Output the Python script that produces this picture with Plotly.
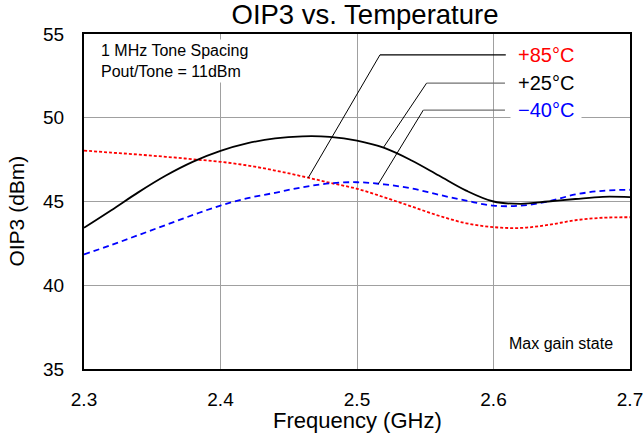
import numpy as np
import plotly.graph_objects as go

freq = [2.30, 2.32, 2.34, 2.36, 2.38, 2.40, 2.42, 2.44, 2.46, 2.48, 2.50,
        2.52, 2.54, 2.56, 2.58, 2.60, 2.62, 2.64, 2.66, 2.68, 2.70]
oip3_p25 = [43.43, 44.48, 45.56, 46.55, 47.38, 48.02, 48.48, 48.77, 48.89, 48.86, 48.64,
            48.20, 47.45, 46.55, 45.65, 45.00, 44.86, 45.00, 45.15, 45.28, 45.26]
oip3_p85 = [48.04, 47.92, 47.80, 47.67, 47.52, 47.37, 47.15, 46.85, 46.50, 46.12, 45.76,
            45.25, 44.70, 44.15, 43.70, 43.47, 43.42, 43.60, 43.88, 44.03, 44.06]
oip3_m40 = [41.84, 42.40, 43.00, 43.60, 44.20, 44.76, 45.20, 45.52, 45.85, 46.08, 46.15,
            46.02, 45.78, 45.40, 45.05, 44.75, 44.75, 45.00, 45.42, 45.64, 45.70]

x_ticks = [2.3, 2.4, 2.5, 2.6, 2.7]
y_ticks = [35, 40, 45, 50, 55]

labels = ["+85°C", "+25°C", "\u221240°C"]
label_colors = ["#ff0000", "#000000", "#0000ff"]
label_y = [53.75, 52.07, 50.46]
leader_curve_x = [2.4643, 2.5193, 2.5156]
leader_elbow_x = [2.5168, 2.5510, 2.5486]
leader_end_x = [2.609, 2.6084, 2.6084]
leader_h_colors = ["#000000", "#707070", "#707070"]

FONT = "Arial, Liberation Sans, sans-serif"

fig = go.Figure()
fig.add_trace(go.Scatter(x=freq, y=oip3_p85, mode="lines", name="+85°C",
                         line=dict(color="#ff0000", width=1.8, dash="3px,2px", shape="spline")))
fig.add_trace(go.Scatter(x=freq, y=oip3_m40, mode="lines", name="-40°C",
                         line=dict(color="#0000ff", width=1.8, dash="6px,4px", shape="spline")))
fig.add_trace(go.Scatter(x=freq, y=oip3_p25, mode="lines", name="+25°C",
                         line=dict(color="#000000", width=1.8, shape="spline")))

series = [oip3_p85, oip3_p25, oip3_m40]
shapes = []
for i in range(3):
    cy = float(np.interp(leader_curve_x[i], freq, series[i]))
    shapes.append(dict(type="line", xref="x", yref="y", x0=leader_curve_x[i], y0=cy,
                       x1=leader_elbow_x[i], y1=label_y[i], line=dict(color="black", width=1)))
    shapes.append(dict(type="line", xref="x", yref="y", x0=leader_elbow_x[i], y0=label_y[i],
                       x1=leader_end_x[i], y1=label_y[i], line=dict(color=leader_h_colors[i], width=1.3)))

annotations = []
for i in range(3):
    annotations.append(dict(x=2.6121, y=label_y[i], xref="x", yref="y", text=labels[i],
                            showarrow=False, xanchor="left", yanchor="middle",
                            font=dict(family=FONT, size=20, color=label_colors[i]),
                            bgcolor="white", borderpad=7))
annotations.append(dict(x=2.3105, y=54.70, xref="x", yref="y",
                        text="1 MHz Tone Spacing<br>Pout/Tone = 11dBm", align="left",
                        showarrow=False, xanchor="left", yanchor="top",
                        font=dict(family=FONT, size=16, color="black"),
                        bgcolor="white", borderpad=2))
annotations.append(dict(x=2.6097, y=36.5, xref="x", yref="y", text="Max gain state",
                        showarrow=False, xanchor="left", yanchor="middle",
                        font=dict(family=FONT, size=16, color="black")))
annotations.append(dict(x=-0.1227, y=0.47, xref="paper", yref="paper", text="OIP3 (dBm)",
                        textangle=-90, showarrow=False, xanchor="center", yanchor="middle",
                        font=dict(family=FONT, size=21, color="black")))
annotations.append(dict(x=0.5, y=-0.155, xref="paper", yref="paper", text="Frequency (GHz)",
                        showarrow=False, xanchor="center", yanchor="middle",
                        font=dict(family=FONT, size=22, color="black")))

fig.update_layout(
    width=644, height=444,
    margin=dict(l=84, r=14, t=34, b=75, autoexpand=False),
    paper_bgcolor="white", plot_bgcolor="white",
    showlegend=False,
    title=dict(text="OIP3 vs. Temperature", x=365 / 644, xref="container", xanchor="center",
               y=1 - 14 / 444, yref="container", yanchor="middle",
               font=dict(family=FONT, size=27.5, color="black")),
    font=dict(family=FONT, color="black"),
    shapes=shapes, annotations=annotations,
)
fig.update_xaxes(range=[2.3, 2.7], tickvals=x_ticks, ticktext=[f"{v:.1f}" for v in x_ticks],
                 showgrid=True, gridcolor="#a0a0a0", gridwidth=1, automargin=False,
                 showline=True, linecolor="black", linewidth=2, mirror=True, zeroline=False,
                 ticks="", tickfont=dict(family=FONT, size=19), ticklabelstandoff=12)
fig.update_yaxes(range=[35, 55], tickvals=y_ticks, showgrid=True, gridcolor="#a0a0a0", gridwidth=1,
                 automargin=False,
                 showline=True, linecolor="black", linewidth=2, mirror=True, zeroline=False,
                 ticks="", tickfont=dict(family=FONT, size=19), ticklabelstandoff=14)

fig.write_html("out.html", config={"displayModeBar": False},
               post_script="document.body.style.margin='0px';")
